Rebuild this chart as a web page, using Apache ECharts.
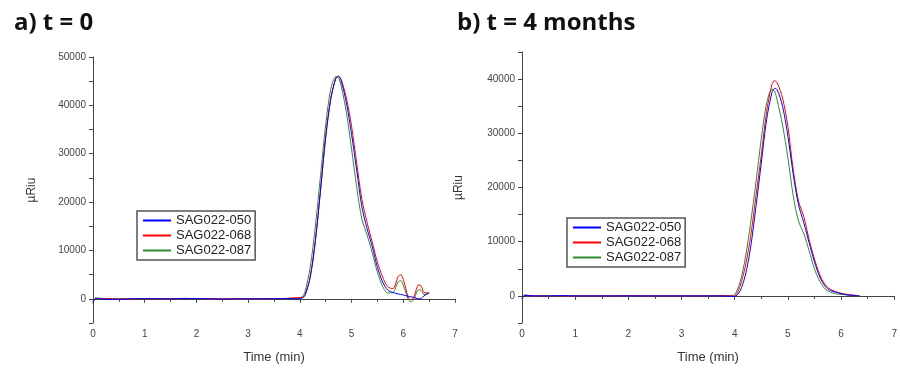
<!DOCTYPE html>
<html><head><meta charset="utf-8">
<script src="https://cdn.jsdelivr.net/npm/echarts@6/dist/echarts.min.js"></script>
<style>html,body{margin:0;padding:0;background:#fff}#c{width:900px;height:369px}</style>
</head><body><div id="c"></div>
<script>
// Panel a (t = 0)
const timeA = [0,0.05,0.25,0.5,0.75,1,1.25,1.5,1.75,2,2.25,2.5,2.75,3,3.25,3.5,3.75,3.95,4.05,4.1,4.2,4.3,4.4,4.5,4.6,4.7,4.75,4.8,4.9,5.0,5.1,5.2,5.3,5.4,5.5,5.6,5.7,5.8,5.9,5.95,6.0,6.1,6.15,6.2,6.3,6.35,6.4,6.5];
const blueA  = [-800,100,-100,-100,0,50,0,0,50,50,0,-50,0,0,0,0,50,0,200,700,4500,12000,22500,33500,41500,45700,46000,45000,40500,34000,26500,19000,14500,10800,6500,3500,1800,1300,1000,900,800,500,400,300,0,100,600,1200];
const redA   = [-1000,100,50,-50,0,50,0,0,100,50,0,-50,0,0,0,50,100,250,300,800,4500,12000,22500,33500,41500,45700,46000,45300,41500,35700,28000,20500,15800,11700,7600,4500,2500,2100,4600,5000,4000,200,-200,300,2900,2600,1300,1200];
const greenA = [-600,150,50,0,0,50,0,0,50,50,0,0,0,0,0,0,50,100,500,1500,6500,15000,25500,36000,43500,46000,45600,44000,38500,31000,23000,16500,13200,9500,5500,2600,1200,1300,3500,3800,2800,-200,-600,-200,1900,1700,900,1200];
// Panel b (t = 4 months)
const timeB = [0,0.05,0.25,0.5,0.75,1,1.25,1.5,1.75,2,2.25,2.5,2.75,3,3.25,3.5,3.75,3.95,4.0,4.1,4.2,4.3,4.4,4.5,4.6,4.7,4.75,4.8,4.9,5.0,5.1,5.2,5.3,5.4,5.5,5.6,5.7,5.8,5.9,6.0,6.1,6.2,6.35];
const blueB  = [-500,100,0,0,50,0,0,0,0,0,0,0,0,0,0,0,0,-100,-100,900,3800,9000,16500,24500,32500,37500,38300,38000,35000,29500,22500,16800,13500,9800,6300,3500,1800,1000,700,400,200,100,0];
const redB   = [-500,150,0,0,0,0,0,0,0,50,0,0,0,0,0,0,50,0,0,1800,5500,11000,18500,26000,34000,39000,39700,39300,36500,31300,23300,17500,14600,10400,6800,3900,2100,1200,800,500,300,200,0];
const greenB = [-700,100,0,0,0,0,0,0,0,0,0,0,0,0,0,0,0,100,200,2500,7000,13500,21000,29000,35500,38100,37800,36000,31500,25500,18500,13800,11500,8300,5000,2700,1300,700,400,300,200,100,0];
const seriesNames = ['SAG022-050','SAG022-068','SAG022-087'];
const titles = ['a) t = 0','b) t = 4 months'];
const xTicks = {min:0, max:7, interval:1};
const yA = {min:-5000, max:50000, interval:5000};
const yB = {min:-5000, max:45000, interval:5000};

const colors = ['#0000ff','#ff0000','#2e8b2e'];
const pair = (t, v) => t.map((x, i) => [x, v[i]]);

function xAxis(gi){
  return {type:'value', gridIndex:gi, min:xTicks.min, max:xTicks.max, interval:xTicks.interval,
    name:'Time (min)', nameLocation:'middle', nameGap:28,
    nameTextStyle:{fontFamily:'Liberation Sans, Arial', fontSize:13, color:'#333'},
    axisLine:{lineStyle:{color:'#444', width:1}},
    axisTick:{show:true, length:4, lineStyle:{color:'#444'}},
    minorTick:{show:true, splitNumber:2, length:3, lineStyle:{color:'#444'}},
    axisLabel:{fontFamily:'Liberation Sans, Arial', fontSize:10, color:'#444', margin:6},
    splitLine:{show:false}};
}
function yAxis(gi, r, gap){
  return {type:'value', gridIndex:gi, min:r.min, max:r.max, interval:r.interval,
    name:'µRiu', nameLocation:'middle', nameGap:gap, nameRotate:90,
    nameTextStyle:{fontFamily:'Liberation Sans, Arial', fontSize:12, color:'#333'},
    axisLine:{show:true, lineStyle:{color:'#444', width:1}},
    axisTick:{show:true, length:4, lineStyle:{color:'#444'}},
    axisLabel:{fontFamily:'Liberation Sans, Arial', fontSize:10, color:'#444', margin:7,
      formatter: v => (v % 10000 === 0 ? String(v) : '')},
    splitLine:{show:false}};
}
function mkSeries(gi, t, arrs){
  return arrs.map((v, i) => ({type:'line', name:seriesNames[i], xAxisIndex:gi, yAxisIndex:gi,
    data:pair(t, v), smooth:0.3, symbol:'none', showSymbol:false,
    lineStyle:{color:colors[i], width:1}, itemStyle:{color:colors[i]}, z: 3 - i}));
}
function legend(left, top){
  return {left:left, top:top, orient:'vertical',
    data:seriesNames.map((n, i) => ({name:n, icon:'rect', itemStyle:{color:colors[i]}})),
    itemWidth:28, itemHeight:2, itemGap:0, padding:[2,4,2,6],
    borderColor:'#555', borderWidth:1.5, backgroundColor:'#fff',
    textStyle:{fontFamily:'Liberation Sans, Arial', fontSize:13, color:'#222', lineHeight:15}};
}
const chart = echarts.init(document.getElementById('c'), null, {renderer:'canvas'});
chart.setOption({
  animation:false,
  title:[
    {text:titles[0], left:9, top:6, textStyle:{fontFamily:'Open Sans', fontWeight:'bold', fontSize:24, color:'#111'}},
    {text:titles[1], left:452, top:6, textStyle:{fontFamily:'Open Sans', fontWeight:'bold', fontSize:24, color:'#111'}}
  ],
  grid:[
    {left:93, top:57, width:362, height:268},
    {left:522, top:52, width:373, height:274}
  ],
  xAxis:[xAxis(0), xAxis(1)],
  yAxis:[yAxis(0, yA, 55), yAxis(1, yB, 57)],
  legend:[legend(137, 211), legend(567, 218)],
  series:[...mkSeries(0, timeA, [blueA, redA, greenA]), ...mkSeries(1, timeB, [blueB, redB, greenB])]
});
</script></body></html>
